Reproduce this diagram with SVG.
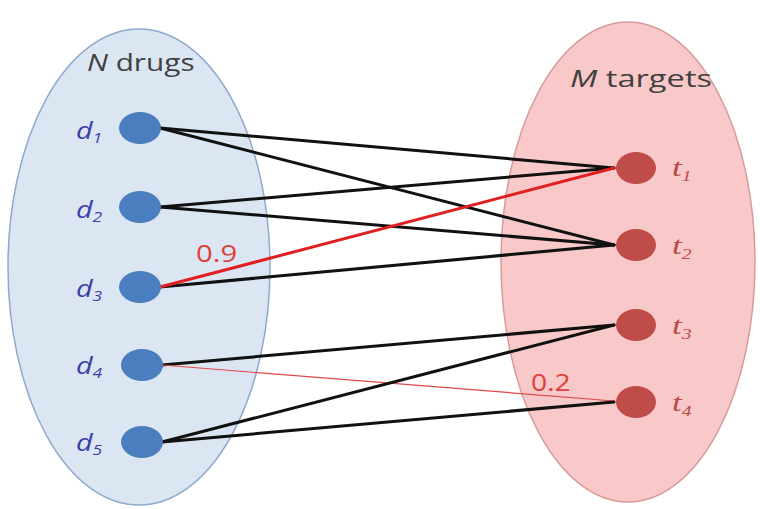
<svg xmlns="http://www.w3.org/2000/svg" width="760" height="509" viewBox="0 0 760 509">
  <style>
    .set-drugs { fill: #dce6f2; stroke: #8ea9cc; stroke-width: 1.5; }
    .set-targets { fill: #f9c9c9; stroke: #d79a9a; stroke-width: 1.5; }
    .drug { fill: #4a7ebf; }
    .target { fill: #bf4c48; }
    .title { font-family: "Open Sans", "Liberation Sans", sans-serif; font-size: 24px; fill: #404040; }
    .dlab { font-family: "Open Sans", "Liberation Sans", sans-serif; font-style: italic; font-size: 23px; fill: #3b3fa8; }
    .tlab { font-family: "Liberation Serif", serif; font-style: italic; font-size: 25px; fill: #b84a48; }
    .sub { font-size: 14px; }
    .weight { font-family: "Open Sans", "Liberation Sans", sans-serif; font-size: 24px; fill: #e0403a; }
    .edge { stroke: #111; stroke-width: 3; fill: none; stroke-linecap: round; }
    .edge-strong { stroke: #e02020; stroke-width: 3; fill: none; stroke-linecap: round; }
    .edge-weak { stroke: #e04848; stroke-width: 1.2; fill: none; }
  </style>

  <g id="set-drugs">
    <ellipse class="set-drugs" cx="139" cy="267" rx="131" ry="238"/>
    <text class="title" transform="translate(87,71) scale(1.24,1)"><tspan font-style="italic">N</tspan> drugs</text>
  </g>
  <g id="set-targets">
    <ellipse class="set-targets" cx="628" cy="262" rx="127" ry="240"/>
    <text class="title" transform="translate(570,87) scale(1.36,1)"><tspan font-style="italic">M</tspan> targets</text>
  </g>

  <g id="connectors">
    <line class="edge" x1="160" y1="128" x2="614" y2="168"/>
    <line class="edge" x1="160" y1="128" x2="614" y2="245"/>
    <line class="edge" x1="160" y1="207" x2="614" y2="168"/>
    <line class="edge" x1="160" y1="207" x2="614" y2="245"/>
    <line class="edge" x1="160" y1="287" x2="614" y2="245"/>
    <line class="edge-strong" x1="160" y1="287" x2="614" y2="168"/>
    <line class="edge" x1="162" y1="365" x2="614" y2="325"/>
    <line class="edge-weak" x1="162" y1="365" x2="614" y2="401"/>
    <line class="edge" x1="162" y1="442" x2="614" y2="325"/>
    <line class="edge" x1="162" y1="442" x2="614" y2="402"/>
    <text class="weight" transform="translate(196,262) scale(1.22,1)">0.9</text>
    <text class="weight" transform="translate(531,391) scale(1.18,1)">0.2</text>
  </g>

  <g id="d1"><ellipse class="drug" cx="140" cy="128" rx="21" ry="16"/><text class="dlab" transform="translate(76,139) scale(1.25,1)">d<tspan class="sub" dy="4">1</tspan></text></g>
  <g id="d2"><ellipse class="drug" cx="140" cy="207" rx="21" ry="16"/><text class="dlab" transform="translate(76,218) scale(1.25,1)">d<tspan class="sub" dy="4">2</tspan></text></g>
  <g id="d3"><ellipse class="drug" cx="140" cy="287" rx="21" ry="16"/><text class="dlab" transform="translate(76,297) scale(1.25,1)">d<tspan class="sub" dy="4">3</tspan></text></g>
  <g id="d4"><ellipse class="drug" cx="142" cy="365" rx="21" ry="16"/><text class="dlab" transform="translate(76,374) scale(1.25,1)">d<tspan class="sub" dy="4">4</tspan></text></g>
  <g id="d5"><ellipse class="drug" cx="142" cy="442" rx="21" ry="16"/><text class="dlab" transform="translate(76,451) scale(1.25,1)">d<tspan class="sub" dy="4">5</tspan></text></g>

  <g id="t1"><ellipse class="target" cx="636" cy="168" rx="20" ry="16"/><text class="tlab" transform="translate(672,176) scale(1.4,1)">t<tspan class="sub" dy="5">1</tspan></text></g>
  <g id="t2"><ellipse class="target" cx="636" cy="245" rx="20" ry="16"/><text class="tlab" transform="translate(672,254) scale(1.4,1)">t<tspan class="sub" dy="5">2</tspan></text></g>
  <g id="t3"><ellipse class="target" cx="636" cy="325" rx="20" ry="16"/><text class="tlab" transform="translate(672,334) scale(1.4,1)">t<tspan class="sub" dy="5">3</tspan></text></g>
  <g id="t4"><ellipse class="target" cx="636" cy="402" rx="20" ry="16"/><text class="tlab" transform="translate(672,411) scale(1.4,1)">t<tspan class="sub" dy="5">4</tspan></text></g>
</svg>
